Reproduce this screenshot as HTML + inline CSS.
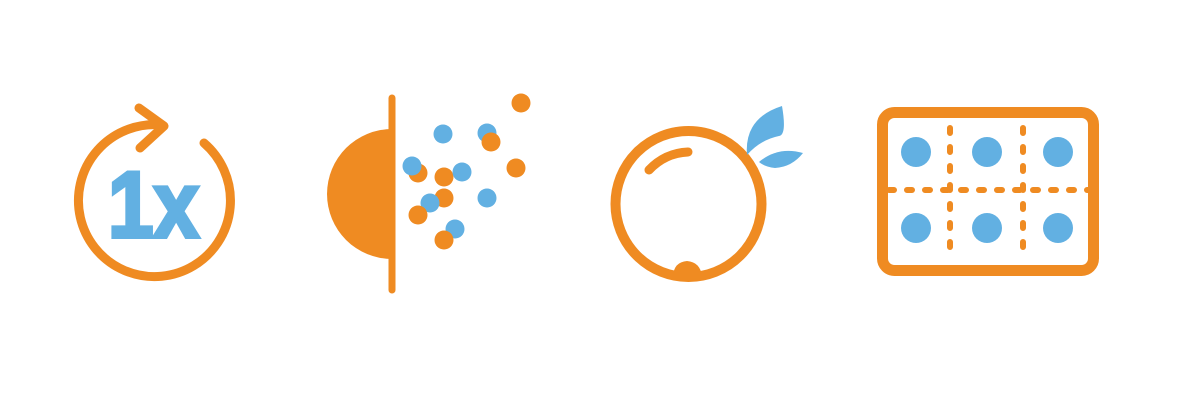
<!DOCTYPE html>
<html><head><meta charset="utf-8"><style>html,body{margin:0;padding:0;background:#fff}svg{display:block}</style></head>
<body>
<svg width="1178" height="403" viewBox="0 0 1178 403" xmlns="http://www.w3.org/2000/svg">
<g fill="none" stroke="#EF8B22" stroke-linecap="round" stroke-linejoin="round">
  <path d="M 162 125 A 76 76 0 1 0 204 143" stroke-width="9"/>
  <path d="M 139 108 L 164 126 L 140 148" stroke-width="9"/>
  <line x1="392" y1="98" x2="392" y2="290" stroke-width="7"/>
  <circle cx="688.5" cy="204" r="73" stroke-width="10"/>
  <path d="M 649 170 Q 665 153 688 152" stroke-width="9"/>
  <rect x="882.5" y="112.5" width="211" height="158" rx="12" stroke-width="11"/>
  <line x1="950" y1="128" x2="950" y2="256" stroke-width="6" stroke-dasharray="5 14"/>
  <line x1="1023" y1="128" x2="1023" y2="256" stroke-width="6" stroke-dasharray="5 14"/>
  <line x1="889" y1="190" x2="1089" y2="190" stroke-width="6" stroke-dasharray="5 13"/>
</g>
<text x="108" y="237" font-family="Liberation Sans, sans-serif" font-weight="bold" font-size="94" fill="#62B0E2" stroke="#62B0E2" stroke-width="4" stroke-linejoin="miter" textLength="91" lengthAdjust="spacingAndGlyphs">1x</text>
<path d="M 392 129 A 65 65 0 0 0 392 259 Z" fill="#EF8B22"/>
<g fill="#62B0E2">
<circle cx="443" cy="134" r="9.5"/><circle cx="487" cy="133" r="9.5"/>
</g>
<g fill="#EF8B22">
<circle cx="491" cy="142" r="9.5"/><circle cx="521" cy="103" r="9.5"/><circle cx="516" cy="168" r="9.5"/>
<circle cx="418" cy="173" r="9.5"/><circle cx="444" cy="177" r="9.5"/><circle cx="444" cy="198" r="9.5"/>
</g>
<g fill="#62B0E2">
<circle cx="412" cy="166" r="9.5"/><circle cx="462" cy="172" r="9.5"/><circle cx="430" cy="203" r="9.5"/>
<circle cx="487" cy="198" r="9.5"/><circle cx="455" cy="229" r="9.5"/>
</g>
<g fill="#EF8B22">
<circle cx="418" cy="215" r="9.5"/><circle cx="444" cy="240" r="9.5"/>
</g>
<path d="M 673 276 Q 674 262 687 261 Q 700 262 702 276 Z" fill="#EF8B22"/>
<path d="M 747 155 Q 744 118 782 106 Q 787 135 779 136 Q 760 140 747 155 Z" fill="#62B0E2"/>
<path d="M 759 162 Q 778 146 803 153 Q 792 167 775 168 Q 765 167 759 162 Z" fill="#62B0E2"/>
<g fill="#62B0E2">
<circle cx="916" cy="152" r="15"/><circle cx="987" cy="152" r="15"/><circle cx="1058" cy="152" r="15"/>
<circle cx="916" cy="228" r="15"/><circle cx="987" cy="228" r="15"/><circle cx="1058" cy="228" r="15"/>
</g>
</svg>
</body></html>
